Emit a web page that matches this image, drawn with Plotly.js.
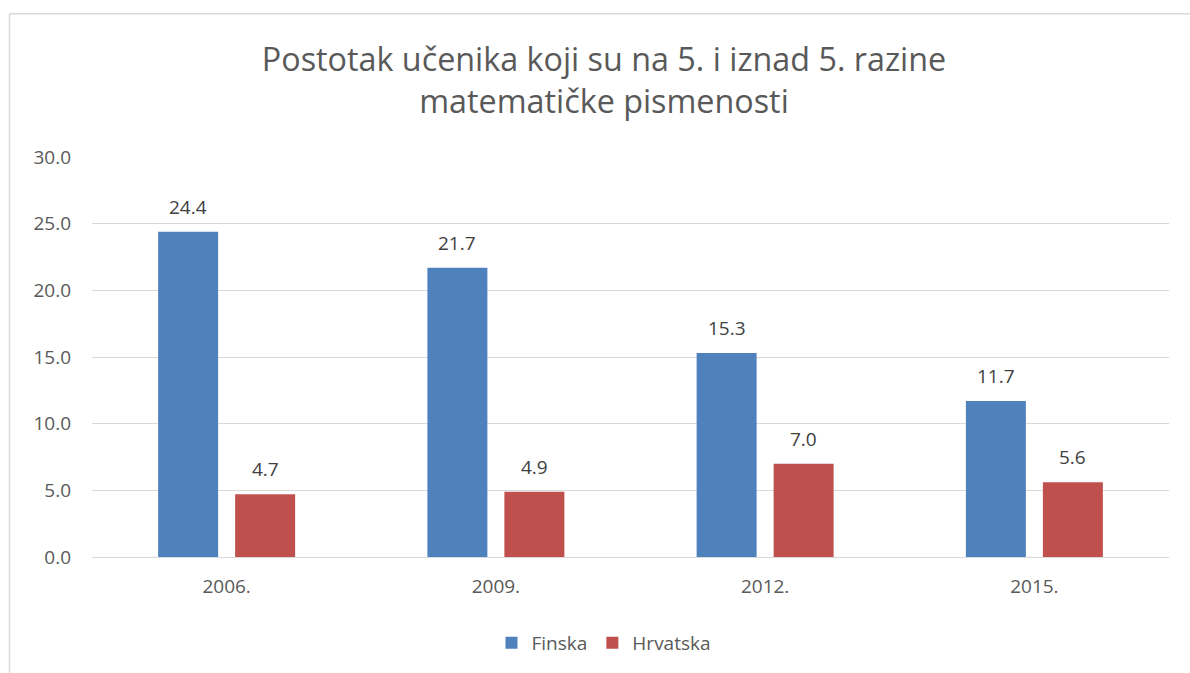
<!DOCTYPE html>
<html>
<head>
<meta charset="utf-8">
<script src="https://cdn.plot.ly/plotly-3.0.1.min.js"></script>
<style>
  html, body { margin: 0; padding: 0; background: #fff; }
  #chart { width: 1190px; height: 673px; }
</style>
</head>
<body>
<div id="chart"></div>
<script>
const categories = ["2006.", "2009.", "2012.", "2015."];
const finska = [24.4, 21.7, 15.3, 11.7];
const hrvatska = [4.7, 4.9, 7.0, 5.6];
const seriesNames = ["Finska", "Hrvatska"];
const titleText = "Postotak učenika koji su na 5. i iznad 5. razine<br>matematičke pismenosti";

const W = 1190, H = 673;
const margin = { l: 92, r: 21, t: 157, b: 115 };
const pw = W - margin.l - margin.r, ph = H - margin.t - margin.b;
const px2x = p => (p - margin.l) / pw;
const py2y = p => 1 - (p - margin.t) / ph;

const font = "'Open Sans', 'Noto Sans', sans-serif";
const bargap = 0.428, bargroupgap = 0.221;
const slotPx = pw / categories.length * (1 - bargap) / 2;

const traces = [
  { type: "bar", name: seriesNames[0], x: categories, y: finska,
    marker: { color: "#4F81BD" }, hoverinfo: "x+y" },
  { type: "bar", name: seriesNames[1], x: categories, y: hrvatska,
    marker: { color: "#C0504D" }, hoverinfo: "x+y" }
];

const annotations = [];
[finska, hrvatska].forEach((vals, si) => {
  vals.forEach((v, i) => {
    annotations.push({
      x: i, y: v, xref: "x", yref: "y",
      text: v.toFixed(1), showarrow: false,
      xanchor: "center", yanchor: "bottom",
      xshift: (si === 0 ? -1 : 1) * slotPx / 2, yshift: 10,
      font: { size: 19, color: "#404040", family: font }
    });
  });
});

const layout = {
  width: W, height: H,
  margin: margin,
  paper_bgcolor: "#ffffff", plot_bgcolor: "#ffffff",
  font: { family: font, color: "#595959", size: 19 },
  title: {
    text: titleText,
    font: { family: font, size: 32.3, color: "#595959" },
    x: 604 / W, xanchor: "center", xref: "container",
    y: 1 - 71 / H, yanchor: "middle", yref: "container"
  },
  barmode: "group",
  bargap: bargap,
  bargroupgap: bargroupgap,
  xaxis: {
    type: "category", categoryorder: "array", categoryarray: categories,
    range: [-0.5, categories.length - 0.5], autorange: false,
    showgrid: false, zeroline: false, showline: false,
    ticks: "", ticklabelstandoff: 16,
    tickfont: { size: 19, color: "#595959", family: font }
  },
  yaxis: {
    range: [0, 30], autorange: false, dtick: 5, tick0: 0, tickformat: ".1f",
    showgrid: true, gridcolor: "#d9d9d9", gridwidth: 1.3,
    zeroline: true, zerolinecolor: "#d9d9d9", zerolinewidth: 1.3,
    showline: false, ticks: "", ticklabelstandoff: 20,
    tickfont: { size: 19, color: "#595959", family: font }
  },
  showlegend: true,
  legend: {
    orientation: "h", x: px2x(604), xanchor: "center",
    y: py2y(643), yanchor: "middle",
    font: { size: 19, color: "#595959", family: font },
    traceorder: "normal", itemwidth: 30
  },
  annotations: annotations,
  shapes: [
    { type: "line", xref: "paper", yref: "paper",
      x0: px2x(9.5), x1: px2x(9.5), y0: py2y(13.5), y1: py2y(700),
      line: { color: "#d9d9d9", width: 1.5 } },
    { type: "line", xref: "paper", yref: "paper",
      x0: px2x(9.5), x1: px2x(1200), y0: py2y(13.5), y1: py2y(13.5),
      line: { color: "#d9d9d9", width: 1.5 } }
  ]
};

Plotly.newPlot("chart", traces, layout, { displayModeBar: false });
</script>
</body>
</html>
